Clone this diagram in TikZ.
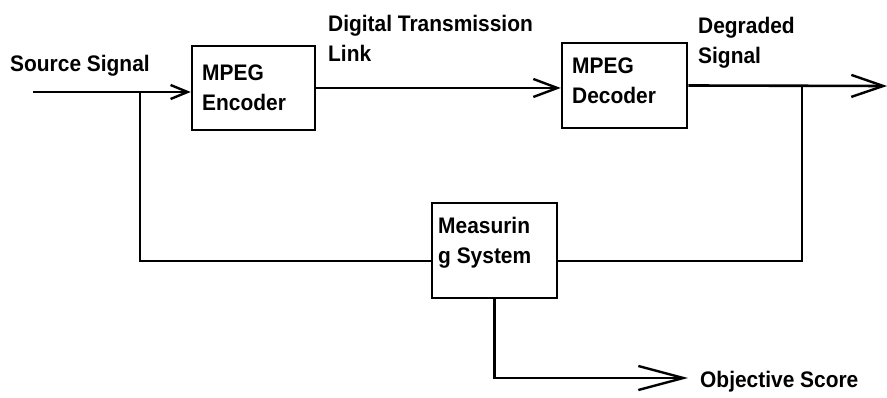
\documentclass[tikz,border=0pt]{standalone}
\usepackage{fontspec}
\setmainfont{Liberation Sans}[FakeStretch=0.93]
\usetikzlibrary{arrows.meta}
\begin{document}
\begin{tikzpicture}[x=1pt, y=-1pt,
  box/.style={draw, rectangle, inner sep=0pt, line width=2.5pt},
  txt/.style={font=\bfseries\fontsize{22.5}{30}\selectfont, align=left, inner sep=0pt, anchor=north west},
  wire/.style={line width=2.6pt},
  barb/.style n args={2}{-{Straight Barb[length=#1, width=#2, line width=2.4pt]}}
]
\useasboundingbox (0,0) rectangle (887,398);

% processing blocks
\node[box, minimum width=123pt, minimum height=84pt] (enc) at (253.5,88) {};
\node[box, minimum width=125pt, minimum height=85pt] (dec) at (624.5,85.5) {};
\node[box, minimum width=125pt, minimum height=95pt] (meas) at (494.5,250.5) {};

% block captions
\node[txt] (enctext) at (202,65) {MPEG\\Encoder};
\node[txt] (dectext) at (572,58) {MPEG\\Decoder};
\node[txt] (meastext) at (438,217) {Measurin\\g System};

% signal labels
\node[txt] (srctext) at (10,55) {Source Signal};
\node[txt] (linktext) at (328,15) {Digital Transmission\\Link};
\node[txt] (degtext) at (698,17) {Degraded\\Signal};
\node[txt] (scoretext) at (700,371) {Objective Score};

% connector end points and junctions
\coordinate (src) at (33,92);
\coordinate (tap1) at (140,92);
\coordinate (mleft) at (140,261);
\coordinate (out) at (887,86);
\coordinate (tap2) at (802,86);
\coordinate (mright) at (802,261);
\coordinate (score) at (688,378);

% forward path
\draw[wire, barb={17pt}{14pt}] (src) -- (src -| enc.west);
\draw[wire, barb={24pt}{18pt}] (enc.east) -- (enc.east -| dec.west);
\draw[wire, barb={32pt}{22pt}] (dec.east) -- (out);

% reference and degraded taps into the measuring system
\draw[wire] (tap1) -- (mleft) -- (mleft -| meas.west);
\draw[wire] (tap2) -- (mright) -- (mright -| meas.east);

% result output
\draw[wire, barb={45pt}{24pt}] (meas.south) |- (score);
\end{tikzpicture}
\end{document}
